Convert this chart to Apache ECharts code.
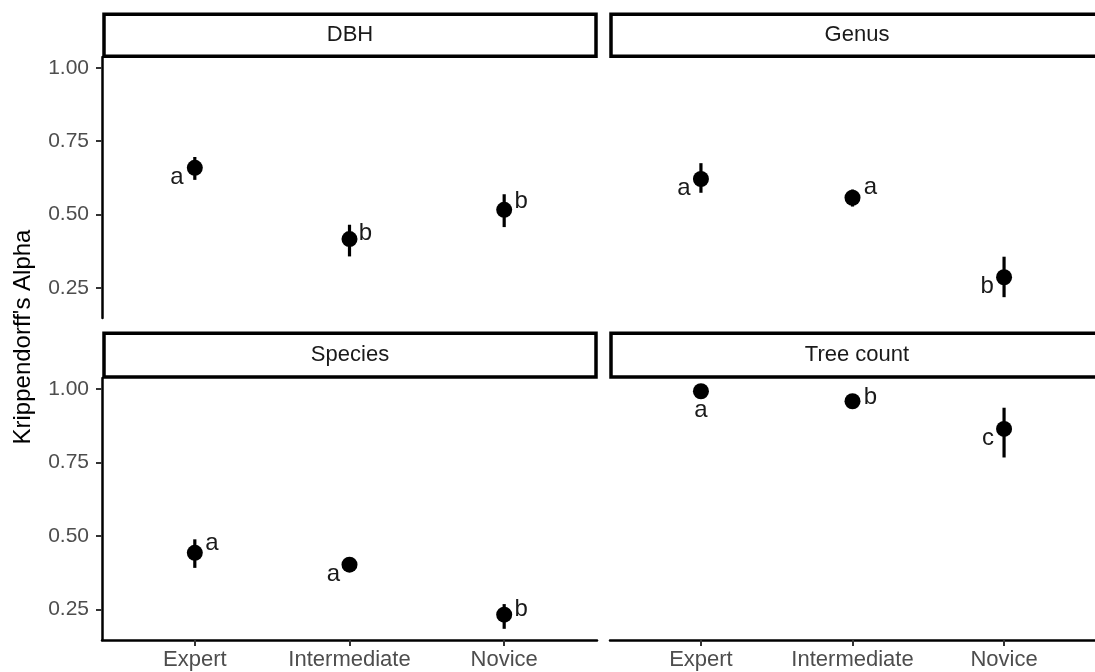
<!DOCTYPE html>
<html><head><meta charset="utf-8">
<script src="https://cdn.jsdelivr.net/npm/echarts@6/dist/echarts.min.js"></script>
<style>html,body{margin:0;padding:0;background:#fff}#c{width:1095px;height:672px}</style>
</head><body><div id="c"></div>
<script>
// ---- data ----
const categories = ['Expert', 'Intermediate', 'Novice'];
const panelNames = ['DBH', 'Genus', 'Species', 'Tree count'];
const yTicks = [0.25, 0.50, 0.75, 1.00];

const dbhAlpha   = [0.659, 0.416, 0.516];
const dbhLow     = [0.618, 0.357, 0.457];
const dbhHigh    = [0.696, 0.465, 0.569];
const dbhLetters = ['a', 'b', 'b'];

const genusAlpha   = [0.621, 0.557, 0.286];
const genusLow     = [0.574, 0.527, 0.218];
const genusHigh    = [0.675, 0.585, 0.356];
const genusLetters = ['a', 'a', 'b'];

const speciesAlpha   = [0.443, 0.403, 0.233];
const speciesLow     = [0.392, 0.387, 0.185];
const speciesHigh    = [0.489, 0.419, 0.269];
const speciesLetters = ['a', 'a', 'b'];

const treeAlpha   = [0.992, 0.958, 0.864];
const treeLow     = [0.984, 0.947, 0.767];
const treeHigh    = [0.999, 0.969, 0.936];
const treeLetters = ['a', 'b', 'c'];

// ---- style / layout ----
const FONT = '"Liberation Sans", Arial, Helvetica, sans-serif';
const panels = [
  {alpha: dbhAlpha, low: dbhLow, high: dbhHigh, letters: dbhLetters},
  {alpha: genusAlpha, low: genusLow, high: genusHigh, letters: genusLetters},
  {alpha: speciesAlpha, low: speciesLow, high: speciesHigh, letters: speciesLetters},
  {alpha: treeAlpha, low: treeLow, high: treeHigh, letters: treeLetters}
];
// letter nudges (pixels) per panel / category
const nudges = [
  [[-18, 10], [16, -6], [17, -8]],
  [[-17, 9], [18, -10], [-17, 9]],
  [[17, -9], [-16, 10], [17, -5]],
  [[0, 19], [18, -4], [-16, 9]]
];
const layout = [
  {left: 102, top: 57, height: 261, showY: true, showX: false},
  {left: 610, top: 57, height: 261, showY: false, showX: false},
  {left: 102, top: 378, height: 262, showY: true, showX: true},
  {left: 610, top: 378, height: 262, showY: false, showX: true}
];
const strips = [
  {x: 104, y: 14.3, h: 42},
  {x: 611, y: 14.3, h: 42},
  {x: 104, y: 333.3, h: 43.7},
  {x: 611, y: 333.3, h: 43.7}
];

const chart = echarts.init(document.getElementById('c'), null, {renderer: 'canvas'});

const series = [];
panels.forEach((p, i) => {
  series.push({
    type: 'custom', xAxisIndex: i, yAxisIndex: i, z: 2,
    data: categories.map((c, k) => [k + 1, p.low[k], p.high[k]]),
    encode: {x: 0, y: [1, 2]},
    renderItem: function (params, api) {
      const x = api.value(0);
      const a = api.coord([x, api.value(1)]);
      const b = api.coord([x, api.value(2)]);
      return {type: 'line', shape: {x1: a[0], y1: a[1], x2: b[0], y2: b[1]},
              style: {stroke: '#000', lineWidth: 3.2}};
    },
    silent: true
  });
  series.push({
    type: 'scatter', xAxisIndex: i, yAxisIndex: i, z: 3,
    symbol: 'circle', symbolSize: 16,
    itemStyle: {color: '#000', opacity: 1},
    data: categories.map((c, k) => ({
      value: [k + 1, p.alpha[k]],
      label: {offset: nudges[i][k]}
    })),
    label: {
      show: true, position: 'inside',
      formatter: (prm) => p.letters[prm.dataIndex],
      color: '#1A1A1A', fontSize: 24, fontFamily: FONT
    },
    silent: true
  });
});

const graphic = [];
strips.forEach((s, i) => {
  graphic.push({type: 'rect', z: 10,
    shape: {x: s.x, y: s.y, width: 492, height: s.h},
    style: {fill: '#fff', stroke: '#000', lineWidth: 3.5}});
  graphic.push({type: 'text', z: 11, x: s.x + 246, y: s.y + s.h / 2,
    style: {text: panelNames[i], fill: '#1A1A1A', font: '22px ' + FONT,
            align: 'center', verticalAlign: 'middle'}});
});
graphic.push({type: 'text', x: 23, y: 337, rotation: Math.PI / 2,
  style: {text: "Krippendorff's Alpha", fill: '#000', font: '24px ' + FONT,
          align: 'center', verticalAlign: 'middle'}});

chart.setOption({
  animation: false,
  backgroundColor: '#fff',
  grid: layout.map(l => ({left: l.left, top: l.top, width: 495, height: l.height})),
  xAxis: layout.map((l, i) => ({
    type: 'value', gridIndex: i, min: 0.4, max: 3.6,
    splitLine: {show: false},
    axisLine: {show: l.showX, onZero: false, lineStyle: {color: '#000', width: 2.5}},
    axisTick: {show: l.showX, customValues: [1, 2, 3], length: 6, lineStyle: {color: '#333', width: 2}},
    axisLabel: {show: l.showX, customValues: [1, 2, 3],
      formatter: v => categories[Math.round(v) - 1],
      color: '#4D4D4D', fontSize: 22, margin: 9, fontFamily: FONT}
  })),
  yAxis: layout.map((l, i) => ({
    type: 'value', gridIndex: i, min: 0.147, max: 1.037,
    splitLine: {show: false},
    axisLine: {show: l.showY, onZero: false, lineStyle: {color: '#000', width: 2.5}},
    axisTick: {show: l.showY, customValues: yTicks, length: 6, lineStyle: {color: '#333', width: 2}},
    axisLabel: {show: l.showY, customValues: yTicks,
      formatter: v => v.toFixed(2),
      color: '#4D4D4D', fontSize: 21, margin: 13, fontFamily: FONT}
  })),
  series: series,
  graphic: graphic
});
</script>
</body></html>
